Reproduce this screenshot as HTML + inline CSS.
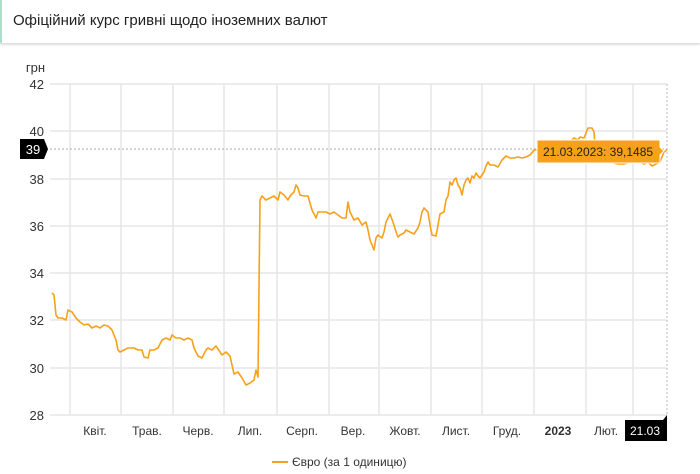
<!DOCTYPE html>
<html><head><meta charset="utf-8"><style>
body{margin:0;width:700px;height:474px;background:#fff;font-family:"Liberation Sans",sans-serif;overflow:hidden;position:relative}
.hdr{position:absolute;left:0;top:0;width:700px;height:43px;border-left:2px solid #a8e0c8;box-sizing:border-box;box-shadow:0 2px 2px #ddd;background:#fff}
.hdr span{position:absolute;left:11px;top:12px;font-size:15px;color:#222}
</style></head><body>
<div class="hdr"><span>Офіційний курс гривні щодо іноземних валют</span></div>
<svg width="700" height="474" style="position:absolute;left:0;top:0" font-family="Liberation Sans, sans-serif">
<g stroke="#e6e6e6" stroke-width="1.5">
<line x1="50" y1="84" x2="667" y2="84"/><line x1="50" y1="131" x2="667" y2="131"/>
<line x1="50" y1="179" x2="667" y2="179"/><line x1="50" y1="226" x2="667" y2="226"/>
<line x1="50" y1="273" x2="667" y2="273"/><line x1="50" y1="320" x2="667" y2="320"/>
<line x1="50" y1="368" x2="667" y2="368"/><line x1="50" y1="415" x2="667" y2="415"/>
<line x1="70" y1="84" x2="70" y2="415"/><line x1="121" y1="84" x2="121" y2="415"/>
<line x1="173" y1="84" x2="173" y2="415"/><line x1="224" y1="84" x2="224" y2="415"/>
<line x1="277" y1="84" x2="277" y2="415"/><line x1="329" y1="84" x2="329" y2="415"/>
<line x1="379" y1="84" x2="379" y2="415"/><line x1="431" y1="84" x2="431" y2="415"/>
<line x1="482" y1="84" x2="482" y2="415"/><line x1="534" y1="84" x2="534" y2="415"/>
<line x1="586" y1="84" x2="586" y2="415"/><line x1="633" y1="84" x2="633" y2="415"/>
</g>
<line x1="50" y1="149" x2="667" y2="149" stroke="#aaa" stroke-dasharray="2,2"/>
<line x1="667" y1="84" x2="667" y2="415" stroke="#bbb" stroke-dasharray="2,2"/>
<g font-size="13" fill="#333" text-anchor="end">
<text x="45" y="72">грн</text>
<text x="44" y="89">42</text><text x="44" y="136">40</text><text x="44" y="184">38</text>
<text x="44" y="231">36</text><text x="44" y="278">34</text><text x="44" y="325">32</text>
<text x="44" y="373">30</text><text x="44" y="420">28</text>
</g>
<polygon points="20,139 44,139 48,149 44,159 20,159" fill="#000"/>
<text x="33" y="154" font-size="13" fill="#fff" text-anchor="middle">39</text>
<g font-size="12" fill="#333" text-anchor="middle">
<text x="95" y="435">Квіт.</text><text x="147" y="435">Трав.</text><text x="198" y="435">Черв.</text>
<text x="250" y="435">Лип.</text><text x="302" y="435">Серп.</text><text x="353" y="435">Вер.</text>
<text x="405" y="435">Жовт.</text><text x="456" y="435">Лист.</text><text x="507" y="435">Груд.</text>
<text x="558" y="435" font-weight="bold">2023</text><text x="606" y="435">Лют.</text>
</g>
<polygon points="625,420 663,420 667,415 667,441 625,441" fill="#000"/>
<text x="645" y="435" font-size="12" fill="#fff" text-anchor="middle">21.03</text>
<polyline fill="none" stroke="#f7a11a" stroke-width="1.6" stroke-linejoin="round" points="52,293 54,295 56,315 58,318 62,318 66,320 68,310 72,312 76,318 80,322 84,325 88,324 92,328 96,326 100,328 104,325 108,326 112,330 116,340 118,350 120,352 124,350 128,348 134,348 138,350 142,350 144,357 148,358 150,350 154,350 158,348 162,340 166,338 170,340 172,335 176,338 180,338 184,340 188,338 192,340 194,348 198,356 202,358 206,350 208,348 212,350 216,346 220,352 222,355 226,352 230,356 234,374 238,372 242,378 246,385 250,383 254,380 256,370 258,377 260,200 262,196 266,200 270,198 274,196 278,200 280,192 284,195 288,200 290,196 294,192 296,185 298,188 300,195 304,196 308,196 312,210 316,218 318,212 322,212 326,212 330,214 334,212 338,215 342,218 346,218 348,202 350,212 354,220 358,218 362,225 366,222 368,230 370,240 372,245 374,250 376,238 378,235 382,238 384,232 386,222 388,218 390,214 394,225 396,232 398,237 400,235 404,233 406,230 410,232 414,234 418,228 420,222 422,212 424,208 428,212 430,225 432,235 436,236 438,225 440,214 444,212 446,200 448,196 450,182 452,185 454,180 456,178 458,185 460,188 462,195 464,185 466,180 468,178 470,183 472,176 474,178 476,173 478,176 480,178 484,172 486,166 488,162 490,165 494,165 498,167 502,160 506,156 510,158 514,158 518,157 522,158 526,157 530,155 534,150 538,150 540,162 542,148 546,160 548,158 550,150 554,148 558,152 562,144 566,140 570,142 574,138 578,140 580,137 584,138 586,133 588,128 592,128 594,132 596,156 600,160 610,162 618,164 624,164 630,162 636,160 640,162 644,164 648,162 652,166 656,164 660,162 664,152 667,150"/>
<polygon points="537,140 660,140 660,147 664,151 660,155 660,163 537,163" fill="#f7a11a" stroke="#fff" stroke-width="1"/>
<text x="598" y="156" font-size="12" fill="#222" text-anchor="middle">21.03.2023: 39,1485</text>
<line x1="272" y1="462" x2="288" y2="462" stroke="#f7a11a" stroke-width="2"/>
<text x="292" y="466" font-size="12" fill="#333">Євро (за 1 одиницю)</text>
</svg>
</body></html>
